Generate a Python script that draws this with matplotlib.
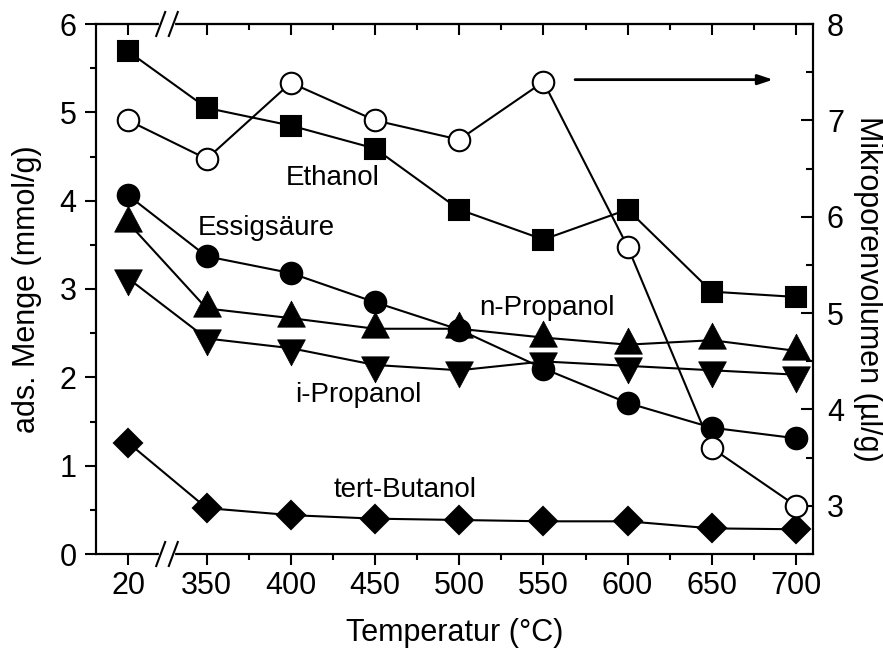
import numpy as np
import matplotlib.pyplot as plt
from matplotlib.path import Path
from matplotlib.ticker import MultipleLocator, FixedLocator

plt.rcParams['font.family'] = ['Liberation Sans', 'DejaVu Sans']

temps = np.array([20, 350, 400, 450, 500, 550, 600, 650, 700])
tick_labels = [str(t) for t in temps]

ethanol = [5.69, 5.05, 4.85, 4.59, 3.90, 3.56, 3.90, 2.97, 2.91]
essigsaeure = [4.06, 3.37, 3.18, 2.85, 2.54, 2.10, 1.71, 1.43, 1.31]
n_propanol = [3.75, 2.78, 2.67, 2.55, 2.55, 2.45, 2.37, 2.42, 2.30]
i_propanol = [3.12, 2.44, 2.33, 2.14, 2.08, 2.18, 2.13, 2.08, 2.03]
tert_butanol = [1.26, 0.52, 0.44, 0.40, 0.385, 0.37, 0.37, 0.29, 0.28]
mikroporen = [7.00, 6.60, 7.39, 7.00, 6.80, 7.40, 5.69, 3.60, 3.00]

# 20 degC sits left of the axis break
xpos = np.where(temps == 20, 303.4, temps).astype(float)
minor_x = np.arange(375, 700, 50)

# triangles centred on their centroid (like the original software)
tri_up = Path([(-1.6, -1), (1.6, -1), (0, 2), (-1.6, -1)], closed=True)
tri_down = Path([(-1.6, 1), (1.6, 1), (0, -2), (-1.6, 1)], closed=True)

fig = plt.figure(figsize=(8.83, 6.48), dpi=100)
ax = fig.add_axes([96 / 883, 1 - 554 / 648, 717 / 883, 530 / 648])
ax2 = ax.twinx()

lw = 1.5
common = dict(color='black', lw=lw, mec='black', clip_on=False)
ax.plot(xpos, ethanol, marker='s', ms=15, mfc='black', mew=1.5, **common)
ax.plot(xpos, essigsaeure, marker='o', ms=15.5, mfc='black', mew=1.5, **common)
ax.plot(xpos, n_propanol, marker=tri_up, ms=25, mfc='black', mew=0.5, **common)
ax.plot(xpos, i_propanol, marker=tri_down, ms=25, mfc='black', mew=0.5, **common)
ax.plot(xpos, tert_butanol, marker='D', ms=14.5, mfc='black', mew=1.5, **common)
ax2.plot(xpos, mikroporen, marker='o', ms=15.5, mfc='white', mew=1.5, zorder=3, **common)

ax.set_xlim(284.3, 710.1)
ax.set_ylim(0, 6)
ax2.set_ylim(2.5, 8)

ax.xaxis.set_major_locator(FixedLocator(xpos))
ax.set_xticklabels(tick_labels)
ax.xaxis.set_minor_locator(FixedLocator(minor_x))
ax.yaxis.set_major_locator(MultipleLocator(1))
ax.yaxis.set_minor_locator(MultipleLocator(0.5))
ax2.yaxis.set_major_locator(MultipleLocator(1))
ax2.yaxis.set_minor_locator(MultipleLocator(0.5))

fs = 22
ax.tick_params(axis='x', which='both', direction='out', labelsize=fs, width=1.5, pad=4.5)
ax.tick_params(axis='y', which='both', direction='out', labelsize=fs, width=1.5, pad=6)
ax.tick_params(which='major', length=8)
ax.tick_params(which='minor', length=4.5)
ax2.tick_params(axis='y', which='both', direction='in', labelsize=fs, width=1.5, pad=10)
ax2.tick_params(which='major', length=8.5)
ax2.tick_params(which='minor', length=5)

# top ticks point inward
top = ax.secondary_xaxis('top')
top.xaxis.set_major_locator(FixedLocator(xpos))
top.xaxis.set_minor_locator(FixedLocator(minor_x))
top.tick_params(which='both', direction='in', labeltop=False, width=1.5)
top.tick_params(which='major', length=8)
top.tick_params(which='minor', length=4.5)
top.spines['top'].set_linewidth(1.5)

for a in (ax, ax2):
    for s in a.spines.values():
        s.set_linewidth(1.5)

ax.set_xlabel('Temperatur (°C)', fontsize=fs)
ax.set_ylabel('ads. Menge (mmol/g)', fontsize=fs)
ax2.set_ylabel('Mikroporenvolumen (µl/g)', fontsize=fs, rotation=270)
ax.xaxis.set_label_coords(0.5, -0.121)
ax.yaxis.set_label_coords(-0.075, 0.5)
ax2.yaxis.set_label_coords(1.097, 0.5)

tfs = 20
ax.text(425, 4.18, 'Ethanol', fontsize=tfs, ha='center', va='baseline')
ax.text(385.2, 3.61, 'Essigsäure', fontsize=tfs, ha='center', va='baseline')
ax.text(552, 2.71, 'n-Propanol', fontsize=tfs, ha='center', va='baseline')
ax.text(439.8, 1.72, 'i-Propanol', fontsize=tfs, ha='center', va='baseline')
ax.text(467.8, 0.65, 'tert-Butanol', fontsize=tfs, ha='center', va='baseline')

ax.annotate('', xy=(686.4, 5.37), xytext=(568.8, 5.37),
            arrowprops=dict(arrowstyle='-|>,head_length=0.9,head_width=0.3',
                            color='black', lw=2, shrinkA=0, shrinkB=0))

# axis break marks on top and bottom spines
x1, x2 = (160.7 - 96) / 717, (173.3 - 96) / 717
dx, dy = 4.5 / 717, 12 / 530
for y in (0, 1):
    ax2.plot([x1, x2], [y, y], transform=ax.transAxes, color='white', lw=3,
             clip_on=False, zorder=10)
    for xc in (x1, x2):
        ax2.plot([xc - dx, xc + dx], [y - dy, y + dy], transform=ax.transAxes,
                 color='black', lw=1.5, clip_on=False, zorder=11)

fig.savefig('out.png', dpi=100)
